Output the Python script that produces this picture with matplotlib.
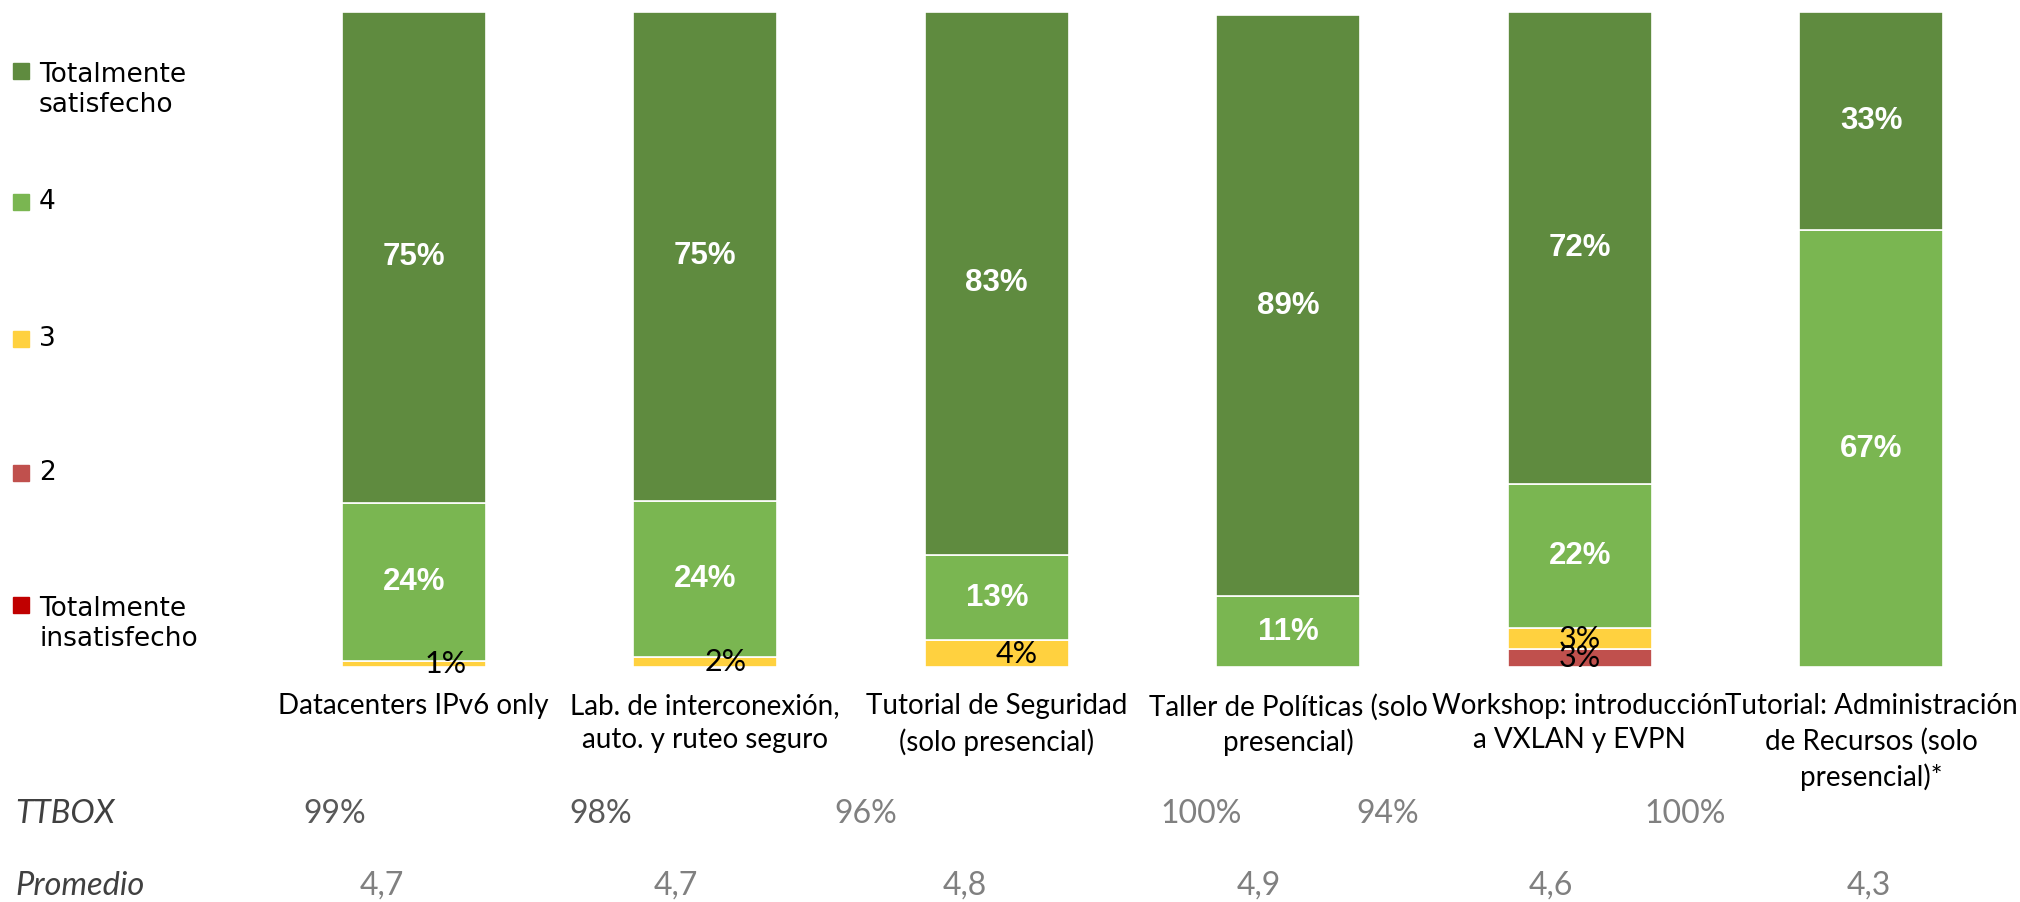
import numpy as np
from matplotlib import pyplot as plt
from matplotlib.patches import Rectangle
from matplotlib.transforms import blended_transform_factory


# survey answers per session, in percent
categories = [
    "Datacenters IPv6 only",
    "Lab. de interconexión,\nauto. y ruteo seguro",
    "Tutorial de Seguridad\n(solo presencial)",
    "Taller de Políticas (solo\npresencial)",
    "Workshop: introducción\na VXLAN y EVPN",
    "Tutorial: Administración\nde Recursos (solo\npresencial)*",
]
series_names = ["Totalmente\ninsatisfecho", "2", "3", "4", "Totalmente\nsatisfecho"]
insatisfecho = [0, 0, 0, 0, 0, 0]
dos = [0, 0, 0, 0, 2.8, 0]
tres = [0.9, 1.6, 4.1, 0, 3.1, 0]
cuatro = [24.2, 23.8, 13.0, 10.8, 22.0, 66.7]
satisfecho = [74.9, 74.6, 82.9, 88.7, 72.1, 33.3]

ttbox = ["99%", "98%", "96%", "100%", "94%", "100%"]
promedio = ["4,7", "4,7", "4,8", "4,9", "4,6", "4,3"]

# where the two table rows sit, in category units
ttbox_x = [-0.27, 0.64, 1.55, 2.70, 3.34, 4.36]
promedio_x = [-0.11, 0.90, 1.89, 2.90, 3.90, 4.99]

COLORS = ["#C00000", "#C0504D", "#FFD13F", "#7AB651", "#5F8B3F"]
NARROW = ["Lato", "DejaVu Sans"]
W, H = 2020, 902


def fx(px):
    return px / W


def fy(py):
    # pixel rows counted from the top
    return 1 - py / H


def draw():
    fig = plt.figure(figsize=(W / 100, H / 100), dpi=100)
    ax = fig.add_axes([fx(268), fy(667), fx(2017 - 268), 655 / H])

    data = np.array([insatisfecho, dos, tres, cuatro, satisfecho]) / 100
    x = np.arange(len(categories))
    bottom = np.zeros(len(categories))

    for k, vals in enumerate(data):
        ax.bar(x, vals, 0.494, bottom=bottom, color=COLORS[k],
               edgecolor="white", linewidth=1.2)
        for i, v in enumerate(vals):
            if v <= 0:
                continue
            yc = bottom[i] + v / 2
            if k >= 3:
                ax.text(x[i], yc, f"{v*100:.0f}%", ha="center", va="center",
                        color="white", fontsize=22.5, fontweight="bold",
                        family=["Liberation Sans", "DejaVu Sans"])
            else:
                # small segments: Excel nudged some labels to the right
                dx = 0.0 if i == 4 else (0.11 if i == 0 else 0.07)
                ax.text(x[i] + dx, yc, f"{v*100:.0f}%", ha="center", va="center",
                        color="black", fontsize=22, family=NARROW)
        bottom += vals

    ax.set_xlim(-0.5, 5.5)
    ax.set_ylim(0, 1)
    ax.set_yticks([])
    ax.set_xticks(x)
    ax.set_xticklabels(categories, fontsize=20, family=NARROW, linespacing=1.38)
    ax.tick_params(axis="x", length=0, pad=19)
    for s in ax.spines.values():
        s.set_visible(False)

    # legend drawn by hand, top to bottom
    marker_y = [71, 202, 339, 473, 605]
    for j, k in enumerate(range(4, -1, -1)):
        y = marker_y[j]
        fig.add_artist(Rectangle((fx(13), fy(y + 8)), fx(16), 16 / H,
                                 color=COLORS[k], transform=fig.transFigure))
        nlines = series_names[k].count("\n") + 1
        fig.text(fx(39), fy(y + (nlines - 1) * 19), series_names[k],
                 ha="left", va="center", fontsize=19, linespacing=1.25)

    # TTBOX and Promedio rows
    fig.text(fx(15), fy(814), "TTBOX", ha="left", va="center", fontsize=23.5,
             style="italic", color="#404040", family=NARROW)
    fig.text(fx(15), fy(886), "Promedio", ha="left", va="center", fontsize=23.5,
             style="italic", color="#404040", family=NARROW)

    # x in data units, y in figure units
    tr = blended_transform_factory(ax.transData, fig.transFigure)
    for i in range(len(categories)):
        col = "#595959" if i < 2 else "#808080"
        ax.text(ttbox_x[i], fy(814), ttbox[i], ha="center", va="center",
                fontsize=23, color=col, family=NARROW, transform=tr, clip_on=False)
        ax.text(promedio_x[i], fy(886), promedio[i], ha="center", va="center",
                fontsize=23, color="#808080", family=NARROW, transform=tr, clip_on=False)

    fig.savefig("out.png", dpi=100)


draw()
